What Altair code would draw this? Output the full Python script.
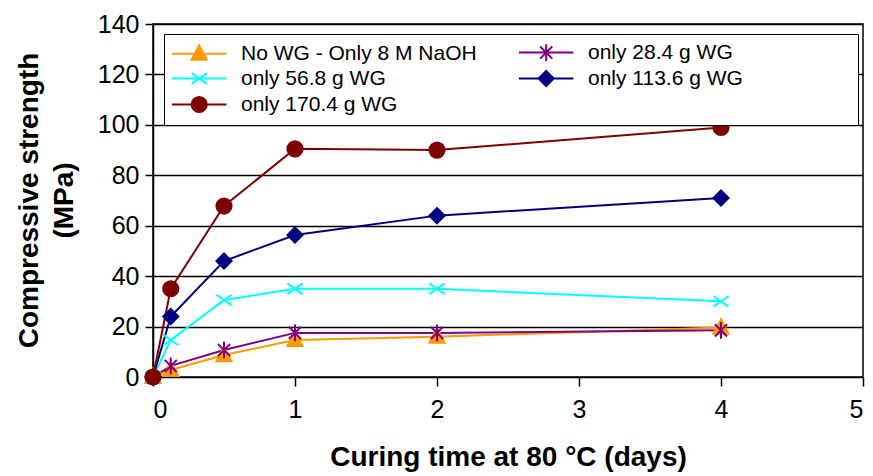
import altair as alt
import pandas as pd

# ---- data ----
days = [0, 0.125, 0.5, 1, 2, 4]
series_names = ["No WG - Only 8 M NaOH", "only 28.4 g WG", "only 56.8 g WG",
                "only 113.6 g WG", "only 170.4 g WG"]
no_wg = [0, 2.8, 8.7, 14.7, 16.0, 19.6]
wg_28_4 = [0, 4.4, 10.7, 17.5, 17.5, 18.5]
wg_56_8 = [0, 14.7, 30.5, 35.0, 35.0, 30.0]
wg_113_6 = [0, 24.0, 46.0, 56.3, 64.0, 71.0]
wg_170_4 = [0, 35.0, 67.8, 90.5, 90.0, 99.0]

y_ticks = [0, 20, 40, 60, 80, 100, 120, 140]
x_ticks = [0, 1, 2, 3, 4, 5]

colors = ["#FF9900", "#800080", "#00FFFF", "#000080", "#800000"]
fills = ["#FF9900", "transparent", "transparent", "#000080", "#800000"]

# marker shapes for the plotted points (centred)
point_shapes = [
    "M0,-1.1L1,0.8L-1,0.8Z",                                   # triangle
    "M-0.8,-0.8L0.8,0.8M-0.8,0.8L0.8,-0.8M0,-1.1L0,1.1",       # asterisk
    "M-1,-0.7L1,0.7M-1,0.7L1,-0.7",                            # x
    "M0,-1L1,0L0,1L-1,0Z",                                     # diamond
    "M-1,0A1,1 0 1,1 1,0A1,1 0 1,1 -1,0Z",                     # circle
]
# legend symbols: line segment with the marker in its middle
leg_line = "M-1.4,0H5.8"
legend_shapes = [
    leg_line + "M2.2,-1.1L3.2,0.8L1.2,0.8Z",
    leg_line + "M1.4,-0.8L3,0.8M1.4,0.8L3,-0.8M2.2,-1.1L2.2,1.1",
    leg_line + "M1.2,-0.7L3.2,0.7M1.2,0.7L3.2,-0.7",
    leg_line + "M2.2,-1L3.2,0L2.2,1L1.2,0Z",
    leg_line + "M1.2,0A1,1 0 1,1 3.2,0A1,1 0 1,1 1.2,0Z",
]

all_vals = [no_wg, wg_28_4, wg_56_8, wg_113_6, wg_170_4]
rows = []
for name, vals in zip(series_names, all_vals):
    for d, v in zip(days, vals):
        rows.append({"series": name, "days": d, "value": v})
df = pd.DataFrame(rows)

FONT = "Liberation Sans"

x_enc = alt.X("days:Q", scale=alt.Scale(domain=[0, 5], nice=False),
              axis=alt.Axis(values=x_ticks, grid=False, tickSize=9, tickColor="black",
                            tickWidth=1.5, domain=False, labelFont=FONT, labelFontSize=25,
                            labelColor="black", labelPadding=11, format="d",
                            title="Curing time at 80 °C (days)", titleFont=FONT,
                            titleFontSize=28, titleFontWeight="bold", titleColor="black",
                            titlePadding=21))
y_enc = alt.Y("value:Q", scale=alt.Scale(domain=[0, 140], nice=False),
              axis=alt.Axis(values=y_ticks, grid=True, gridColor="black", gridWidth=1.5,
                            tickSize=8, tickColor="black", tickWidth=1.5,
                            domainColor="black", domainWidth=1.5,
                            labelFont=FONT, labelFontSize=25, labelColor="black",
                            labelPadding=6,
                            title=["Compressive strength", "(MPa)"], titleFont=FONT,
                            titleFontSize=28, titleFontWeight="bold", titleColor="black",
                            titleLineHeight=35, titleX=-124, titleY=176,
                            titleAlign="center", titleBaseline="middle", titleAngle=270))

stroke_scale = alt.Scale(domain=series_names, range=colors)
fill_scale = alt.Scale(domain=series_names, range=fills)

lines = alt.Chart(df).mark_line(strokeWidth=2).encode(
    x=x_enc, y=y_enc,
    stroke=alt.Stroke("series:N", scale=stroke_scale, legend=None),
    detail="series:N",
)

points = alt.Chart(df).mark_point(size=230, strokeWidth=2, opacity=1).encode(
    x="days:Q", y="value:Q",
    stroke=alt.Stroke("series:N", scale=stroke_scale, legend=None),
    fill=alt.Fill("series:N", scale=fill_scale, legend=None),
    shape=alt.Shape("series:N", scale=alt.Scale(domain=series_names, range=point_shapes),
                    legend=None),
)

# right-column labels get trailing blank space (kept by a final zero-width char)
# so that the legend box spans the plot width as in the reference
pad_expr = ("indexof(datum.label, 'only 28.4') >= 0 || indexof(datum.label, 'only 113.6') >= 0"
            " ? pad(datum.label, 24, '\u2007', 'right') + '\u200b' : datum.label")

leg = alt.Legend(title=None, orient="none", legendX=11, legendY=10, columns=2,
                 direction="horizontal",
                 columnPadding=37, rowPadding=1, labelFont=FONT, labelFontSize=21,
                 labelColor="black", labelOffset=48, symbolSize=230,
                 symbolStrokeWidth=2, symbolOpacity=1, padding=8, strokeColor="black",
                 fillColor="white", labelLimit=600, labelExpr=pad_expr)

legend_layer = alt.Chart(df).transform_filter("datum.value < -1000").mark_point(
    size=230, strokeWidth=2, opacity=1).encode(
    x="days:Q", y="value:Q",
    stroke=alt.Stroke("series:N", scale=alt.Scale(domain=series_names, range=colors),
                      legend=leg),
    fill=alt.Fill("series:N", scale=alt.Scale(domain=series_names, range=fills),
                  legend=leg),
    shape=alt.Shape("series:N", scale=alt.Scale(domain=series_names, range=legend_shapes),
                    legend=leg),
)

chart = alt.layer(lines, points, legend_layer).resolve_scale(
    shape="independent", stroke="independent", fill="independent"
).resolve_legend(
    shape="independent", stroke="independent", fill="independent"
).properties(
    width=710, height=353,
    autosize=alt.AutoSizeParams(type="none"),
    padding={"left": 153, "top": 24, "right": 10, "bottom": 99},
    background="white",
).configure_view(stroke="black", strokeWidth=1.5)

chart.save("out.html", embed_options={"renderer": "svg", "actions": False})
